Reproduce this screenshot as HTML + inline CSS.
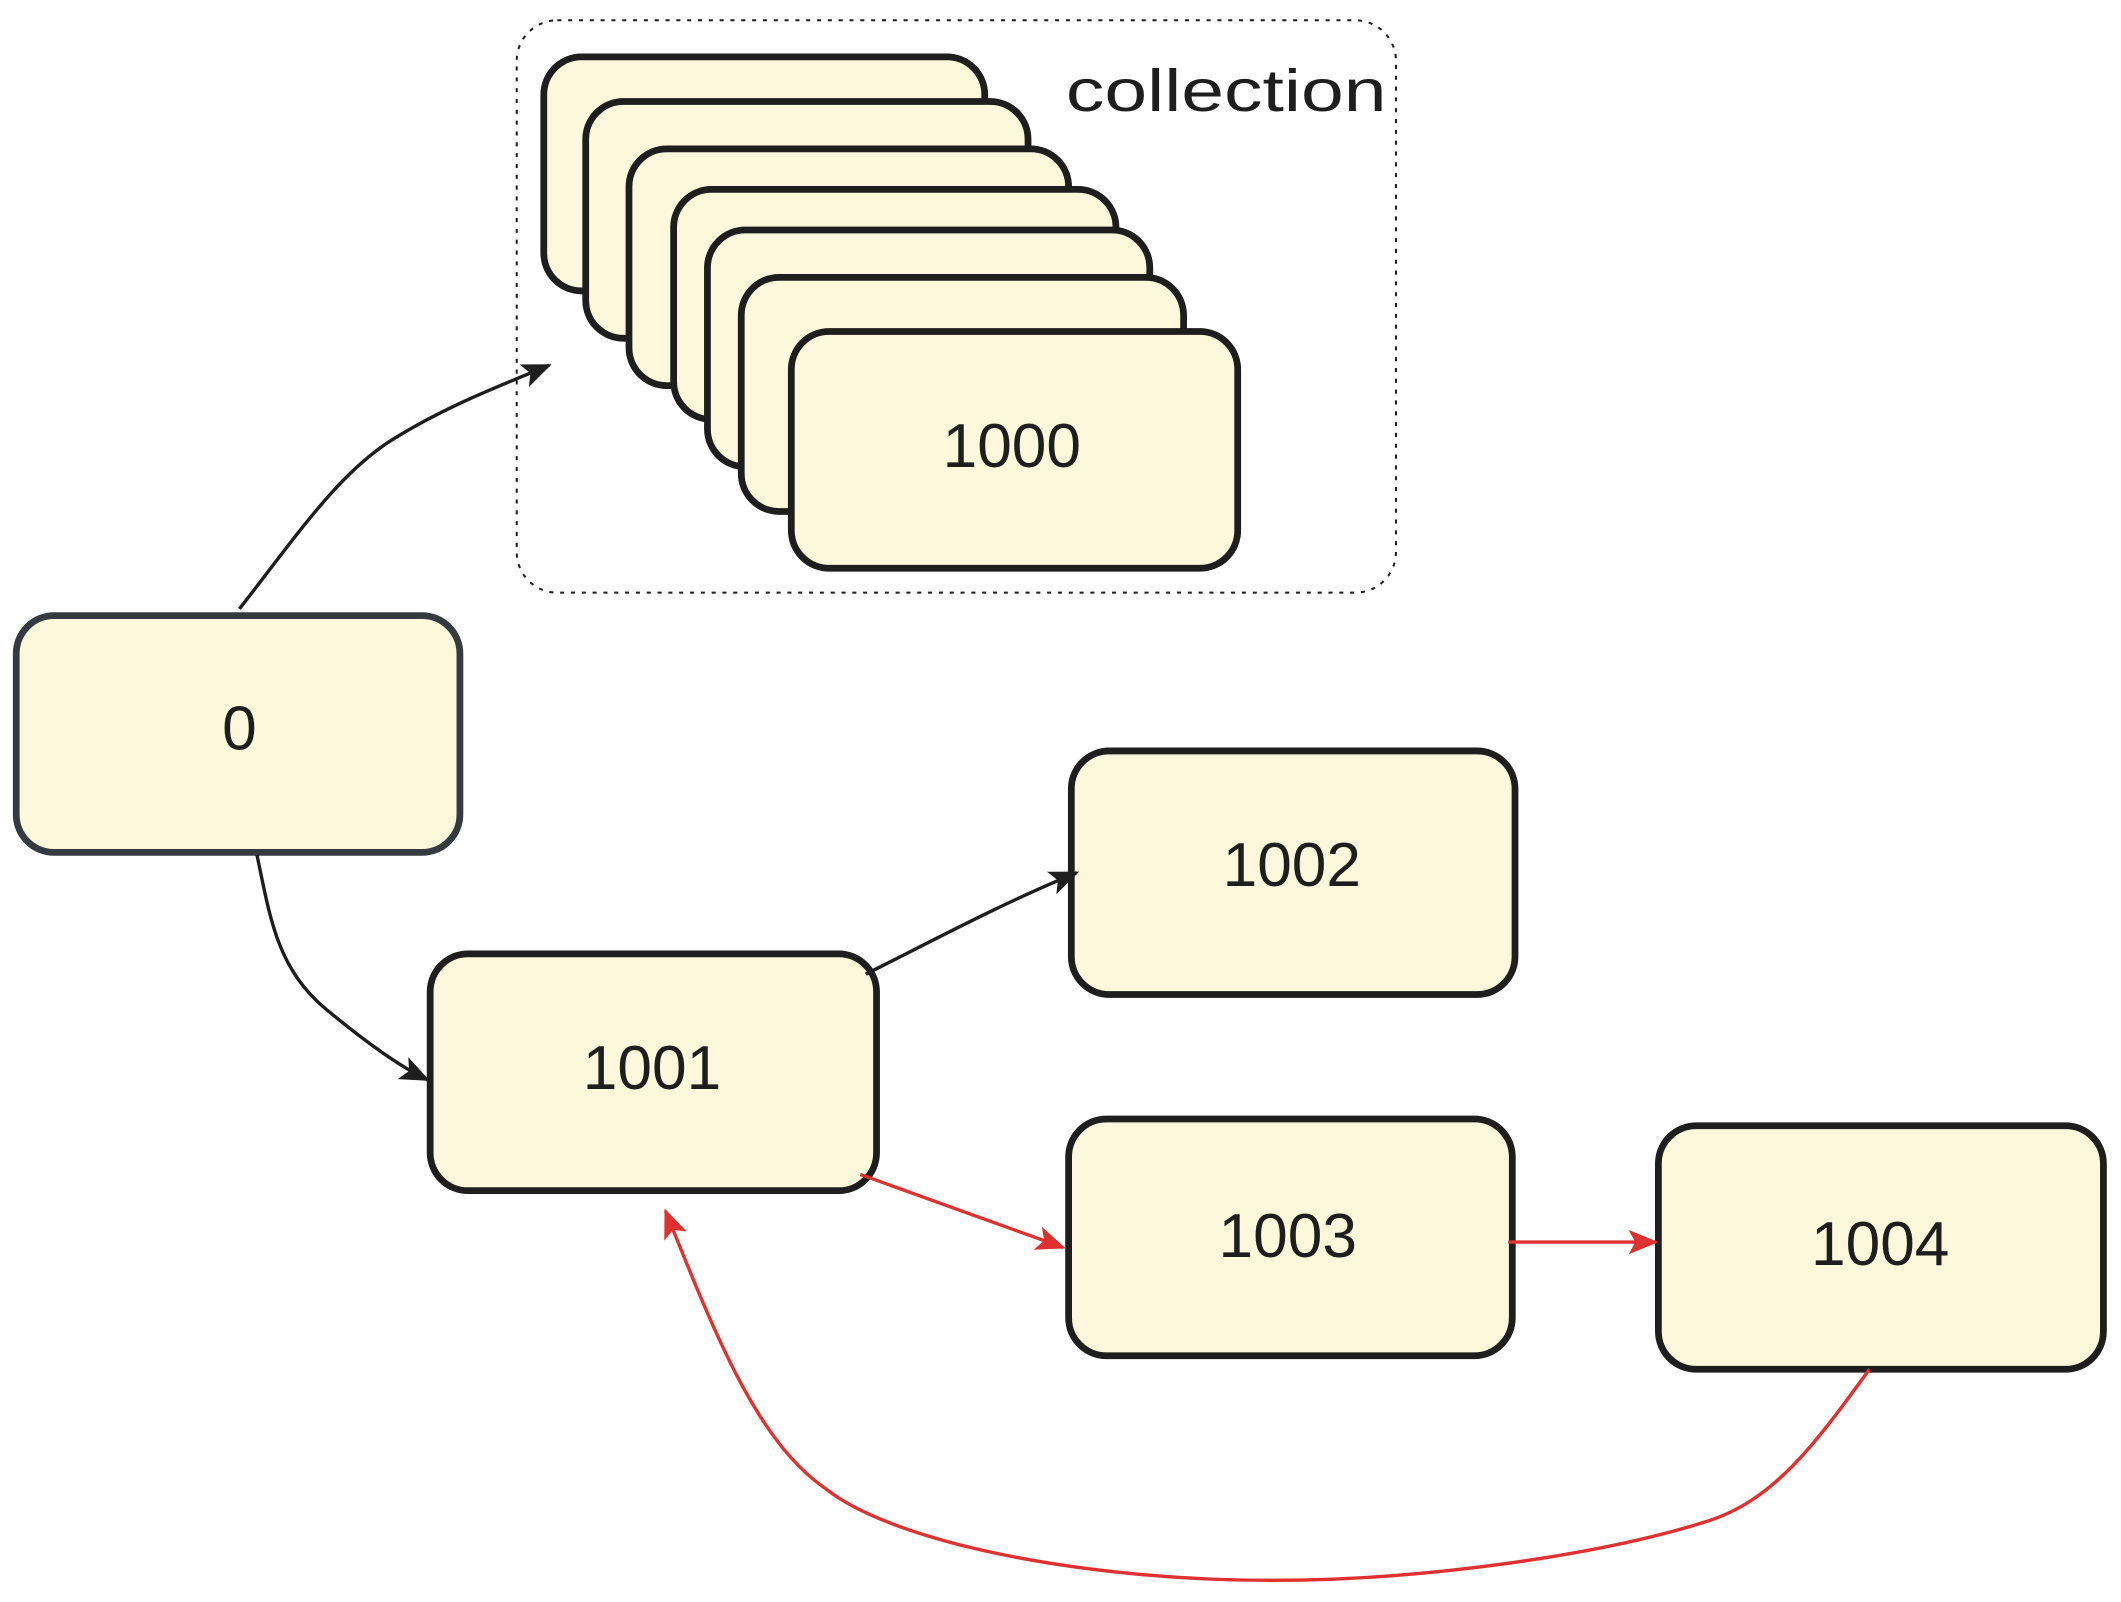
<!DOCTYPE html>
<html><head><meta charset="utf-8"><style>
html,body{margin:0;padding:0;background:#fff;}
svg{display:block;}
text{font-family:"Liberation Sans",sans-serif;fill:#1e1e1e;}
</style></head><body>
<svg width="2121" height="1602" viewBox="0 0 1568 1184" preserveAspectRatio="none" xmlns="http://www.w3.org/2000/svg">
<defs>
<marker id="ab" markerWidth="22" markerHeight="18" refX="20" refY="9" orient="auto" markerUnits="userSpaceOnUse" viewBox="0 0 22 18"><path d="M0,0 L22,9 L0,18 L5,9 z" fill="#1e1e1e"/></marker>
<marker id="ar" markerWidth="22" markerHeight="18" refX="20" refY="9" orient="auto" markerUnits="userSpaceOnUse" viewBox="0 0 22 18"><path d="M0,0 L22,9 L0,18 L5,9 z" fill="#e03131"/></marker>
</defs>
<rect x="382" y="15" width="650" height="423" rx="30" fill="none" stroke="#1e1e1e" stroke-width="1.5" stroke-dasharray="3,5"/>
<text x="788" y="82" font-size="44" textLength="237" lengthAdjust="spacingAndGlyphs" fill="#1e1e1e">collection</text>
<g fill="#fdf8dc" stroke="#1e1e1e" stroke-width="5">
<rect x="402" y="42" width="326" height="173" rx="28"/>
<rect x="433" y="75" width="327" height="175" rx="28"/>
<rect x="465" y="110" width="325" height="175" rx="28"/>
<rect x="498" y="140" width="327" height="170" rx="28"/>
<rect x="523" y="170" width="327" height="175" rx="28"/>
<rect x="548" y="205" width="327" height="173" rx="28"/>
<rect x="585" y="245" width="330" height="175" rx="28"/>
<rect x="12" y="455" width="328" height="175" rx="28" stroke="#343a40"/>
<rect x="792" y="555" width="328" height="180" rx="28"/>
<rect x="318" y="705" width="330" height="175" rx="28"/>
<rect x="790" y="827" width="328" height="175" rx="28"/>
<rect x="1226" y="832" width="329" height="180" rx="28"/>
</g>
<g font-size="46" text-anchor="middle">
<text x="748" y="345">1000</text>
<text x="177" y="554">0</text>
<text x="955" y="655">1002</text>
<text x="482" y="805">1001</text>
<text x="952" y="929">1003</text>
<text x="1390" y="935">1004</text>
</g>
<g fill="none" stroke-width="2.5">
<path d="M177,450 C220,395 250,350 290,325 C330,300 370,285 406,270" stroke="#1e1e1e" marker-end="url(#ab)"/>
<path d="M190,632 C200,680 205,715 240,745 C270,770 295,788 316,798" stroke="#1e1e1e" marker-end="url(#ab)"/>
<path d="M640,720 C690,695 740,668 796,645" stroke="#1e1e1e" marker-end="url(#ab)"/>
<path d="M636,868 L786,922" stroke="#e03131" marker-end="url(#ar)"/>
<path d="M1115,918 L1224,918" stroke="#e03131" marker-end="url(#ar)"/>
<path d="M1382,1012 C1340,1070 1310,1110 1260,1125 C1180,1150 1050,1168 940,1168 C800,1168 660,1140 610,1100 C560,1065 530,990 492,895" stroke="#e03131" marker-end="url(#ar)"/>
</g>
</svg>
</body></html>
